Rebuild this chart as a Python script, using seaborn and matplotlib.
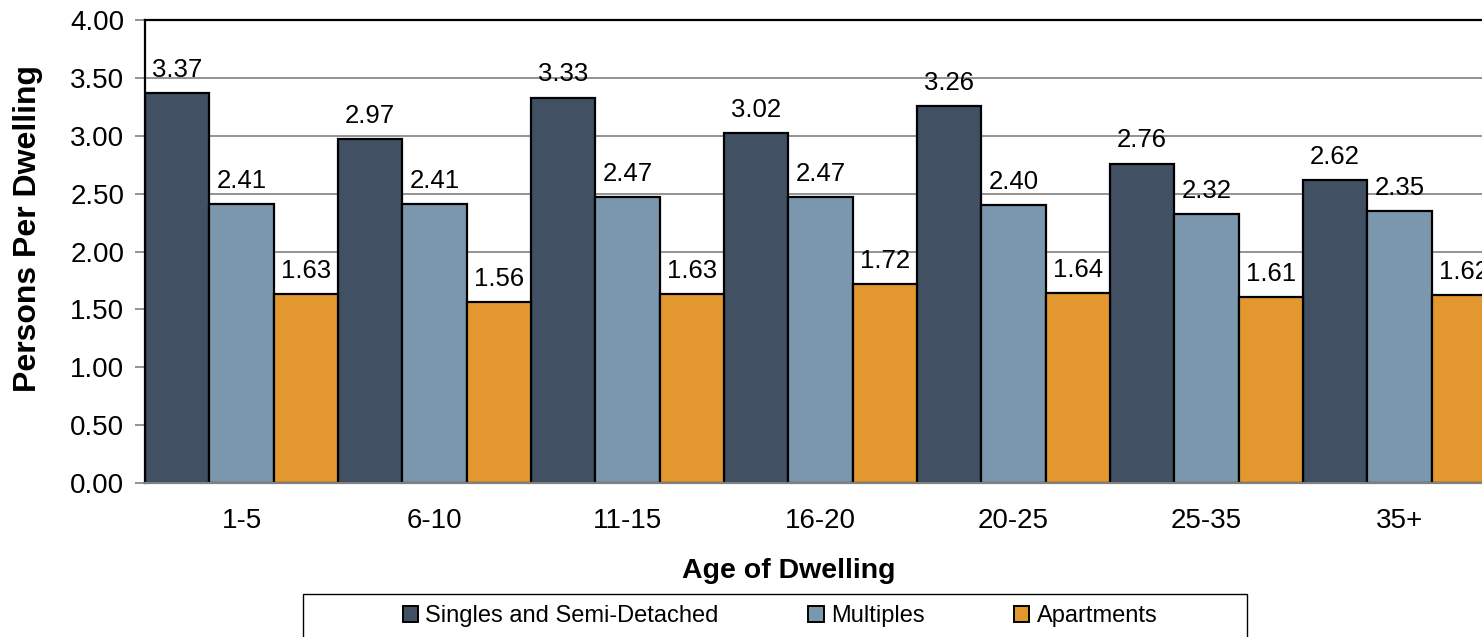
import matplotlib
matplotlib.use("Agg")
import matplotlib.pyplot as plt
from matplotlib.patches import Rectangle, Patch
import seaborn as sns
import pandas as pd
import numpy as np

categories = ["1-5", "6-10", "11-15", "16-20", "20-25", "25-35", "35+"]
series_names = ["Singles and Semi-Detached", "Multiples", "Apartments"]
singles = [3.37, 2.97, 3.33, 3.02, 3.26, 2.76, 2.62]
multiples = [2.41, 2.41, 2.47, 2.47, 2.40, 2.32, 2.35]
apartments = [1.63, 1.56, 1.63, 1.72, 1.64, 1.61, 1.62]
colors = ["#415163", "#7b97ad", "#e3972f"]

rows = []
for name, vals in zip(series_names, [singles, multiples, apartments]):
    for c, v in zip(categories, vals):
        rows.append({"Age": c, "Type": name, "Value": v})
df = pd.DataFrame(rows)

sns.set_theme(style="white")
plt.rcParams["font.family"] = ["Liberation Sans", "DejaVu Sans"]
plt.rcParams["text.color"] = "black"
plt.rcParams["xtick.labelcolor"] = "black"
plt.rcParams["ytick.labelcolor"] = "black"

W, H = 1482, 637
fig = plt.figure(figsize=(W / 100, H / 100), dpi=100)
ax = fig.add_axes([145 / W, (H - 483) / H, 1351 / W, 463 / H])

sns.barplot(data=df, x="Age", y="Value", hue="Type", hue_order=series_names,
            order=categories, palette=colors, width=1.0, gap=0,
            edgecolor="black", linewidth=1.6, saturation=1, ax=ax, legend=False)

for cont in ax.containers:
    ax.bar_label(cont, fmt="%.2f", padding=8, fontsize=18.5, color="black")

ax.set_xlim(-0.5, len(categories) - 0.5)
ax.set_ylim(0, 4.0)
ax.set_yticks(np.arange(0, 4.01, 0.5))
ax.set_yticklabels([f"{v:.2f}" for v in np.arange(0, 4.01, 0.5)], fontsize=20, color="black")
ax.yaxis.grid(True, color="#808080", linewidth=1.2)
ax.set_axisbelow(True)

ax.set_xticks(range(len(categories)))
ax.set_xticklabels(categories, fontsize=20, color="black")
ax.tick_params(axis="x", which="major", length=0, pad=18)
ax.set_xticks(np.arange(-0.5, len(categories), 1.0), minor=True)
ax.tick_params(axis="x", which="minor", length=7, width=1.2, color="#808080", direction="out")
ax.tick_params(axis="y", which="major", length=7, width=1.2, color="#808080", direction="out", left=True, pad=8)

for s in ["left", "top"]:
    ax.spines[s].set_color("black")
    ax.spines[s].set_linewidth(1.6)
ax.spines["bottom"].set_color("#808080")
ax.spines["bottom"].set_linewidth(1.6)
ax.spines["right"].set_visible(False)

ax.set_xlabel("")
ax.set_ylabel("")
fig.text(789 / W, 1 - 571 / H, "Age of Dwelling", ha="center", va="center",
         fontsize=20.5, fontweight="bold", color="black")
fig.text(28 / W, 1 - 229 / H, "Persons Per Dwelling", ha="center", va="center",
         rotation=90, fontsize=23, fontweight="bold", color="black")

# legend box
fig.patches.append(Rectangle((303 / W, -0.05), (1247 - 303) / W, (H - 594) / H + 0.05,
                             transform=fig.transFigure, facecolor="white",
                             edgecolor="black", linewidth=1.0, zorder=0))
handles = [Patch(facecolor=c, edgecolor="black", linewidth=1.4) for c in colors]
leg = fig.legend(handles, series_names, loc="center", bbox_to_anchor=(780 / W, 1 - 616 / H),
                 ncol=3, frameon=False, fontsize=17, handlelength=0.65, handleheight=0.65,
                 handletextpad=0.3, columnspacing=3.8, borderaxespad=0, labelcolor="black")

fig.savefig("out.png", dpi=100)
